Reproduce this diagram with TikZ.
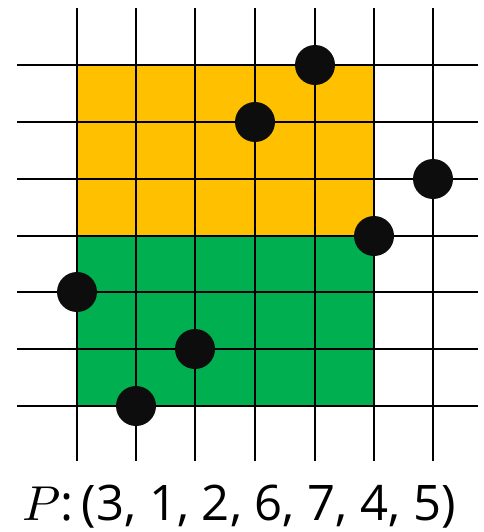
\documentclass[tikz,border=0pt]{standalone}
\usepackage{fontspec}
\setmainfont{Open Sans}
\usepackage{unicode-math}
\definecolor{orng}{HTML}{FFC000}
\definecolor{grn}{HTML}{00B050}
\definecolor{dotc}{HTML}{0D0D0D}
\begin{document}
\begin{tikzpicture}[x=1pt,y=-1pt,
  gridline/.style={line width=2pt,black},
  dotnode/.style={circle,fill=dotc,minimum size=40pt,inner sep=0pt}]
\useasboundingbox (0,0) rectangle (483,532);
\fill[orng] (77,65) rectangle (374,236);
\fill[grn] (77,236) rectangle (374,406);
\foreach \x in {77,136,195,255,315,374,433}
  \draw[gridline] (\x,8) -- (\x,461);
\foreach \y in {65,122,179,236,292,349,406}
  \draw[gridline] (17,\y) -- (478,\y);
\node[dotnode] (d1) at (77,292) {};
\node[dotnode] (d2) at (136,406) {};
\node[dotnode] (d3) at (195,349) {};
\node[dotnode] (d4) at (255,122) {};
\node[dotnode] (d5) at (315,65) {};
\node[dotnode] (d6) at (374,236) {};
\node[dotnode] (d7) at (433,179) {};
\node[anchor=base,font=\fontsize{49}{58}\selectfont,inner sep=0pt] (lbl) at (239,520) {$P$:\,(3, 1, 2, 6, 7, 4, 5)};
\end{tikzpicture}
\end{document}
